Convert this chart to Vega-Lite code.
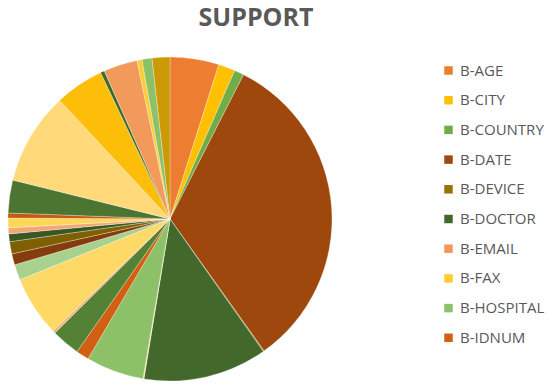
{
  "$schema": "https://vega.github.io/schema/vega-lite/v6.json",
  "width": 340,
  "height": 324,
  "autosize": "none",
  "padding": {"left": 0, "top": 57, "right": 210, "bottom": 5},
  "background": "white",
  "title": {
    "text": "SUPPORT",
    "anchor": "middle",
    "dx": 86,
    "offset": 25,
    "fontSize": 25,
    "font": "Open Sans",
    "fontWeight": "bold",
    "color": "#595959"
  },
  "data": {
    "values": [
      {"tag": "B-AGE", "support": 490},
      {"tag": "B-CITY", "support": 167},
      {"tag": "B-COUNTRY", "support": 97},
      {"tag": "B-DATE", "support": 3280},
      {"tag": "B-DEVICE", "support": 10},
      {"tag": "B-DOCTOR", "support": 1240},
      {"tag": "B-EMAIL", "support": 5},
      {"tag": "B-FAX", "support": 5},
      {"tag": "B-HOSPITAL", "support": 580},
      {"tag": "B-IDNUM", "support": 130},
      {"tag": "B-MEDICALRECORD", "support": 286},
      {"tag": "B-ORGANIZATION", "support": 28},
      {"tag": "B-PATIENT", "support": 606},
      {"tag": "B-PHONE", "support": 156},
      {"tag": "B-PROFESSION", "support": 111},
      {"tag": "B-STATE", "support": 122},
      {"tag": "B-STREET", "support": 78},
      {"tag": "B-USERNAME", "support": 60},
      {"tag": "B-ZIP", "support": 97},
      {"tag": "I-CITY", "support": 50},
      {"tag": "I-DATE", "support": 328},
      {"tag": "I-DOCTOR", "support": 925},
      {"tag": "I-HOSPITAL", "support": 492},
      {"tag": "I-ORGANIZATION", "support": 40},
      {"tag": "I-PATIENT", "support": 340},
      {"tag": "I-PHONE", "support": 50},
      {"tag": "I-PROFESSION", "support": 100},
      {"tag": "I-STREET", "support": 178}
    ]
  },
  "mark": {"type": "arc", "stroke": "white", "strokeWidth": 0.3},
  "encoding": {
    "theta": {"field": "support", "type": "quantitative", "stack": true},
    "color": {
      "field": "tag",
      "type": "nominal",
      "sort": null,
      "scale": {
        "domain": ["B-AGE","B-CITY","B-COUNTRY","B-DATE","B-DEVICE","B-DOCTOR","B-EMAIL","B-FAX","B-HOSPITAL","B-IDNUM","B-MEDICALRECORD","B-ORGANIZATION","B-PATIENT","B-PHONE","B-PROFESSION","B-STATE","B-STREET","B-USERNAME","B-ZIP","I-CITY","I-DATE","I-DOCTOR","I-HOSPITAL","I-ORGANIZATION","I-PATIENT","I-PHONE","I-PROFESSION","I-STREET"],
        "range": ["#ED7D31","#FFC000","#70AD47","#9E480E","#997300","#43682B","#F1975A","#FFCD33","#8CC168","#D26012","#548235","#F4B183","#FFD966","#A9D18E","#843C0C","#7F6000","#385723","#F2A777","#FFD757","#C55A11","#4B7530","#FFD97A","#FDBE0A","#3E6A26","#F19A5C","#FFCD33","#8CC168","#CC9A06"]
      },
      "legend": {
        "values": ["B-AGE","B-CITY","B-COUNTRY","B-DATE","B-DEVICE","B-DOCTOR","B-EMAIL","B-FAX","B-HOSPITAL","B-IDNUM"],
        "title": null,
        "orient": "none",
        "legendX": 441,
        "legendY": 6,
        "symbolType": "square",
        "symbolSize": 72,
        "symbolStrokeWidth": 0,
        "labelFont": "Open Sans",
        "labelFontSize": 15,
        "labelColor": "#595959",
        "labelOffset": 4,
        "rowPadding": 13.7
      }
    }
  },
  "config": {"view": {"stroke": null}}
}
